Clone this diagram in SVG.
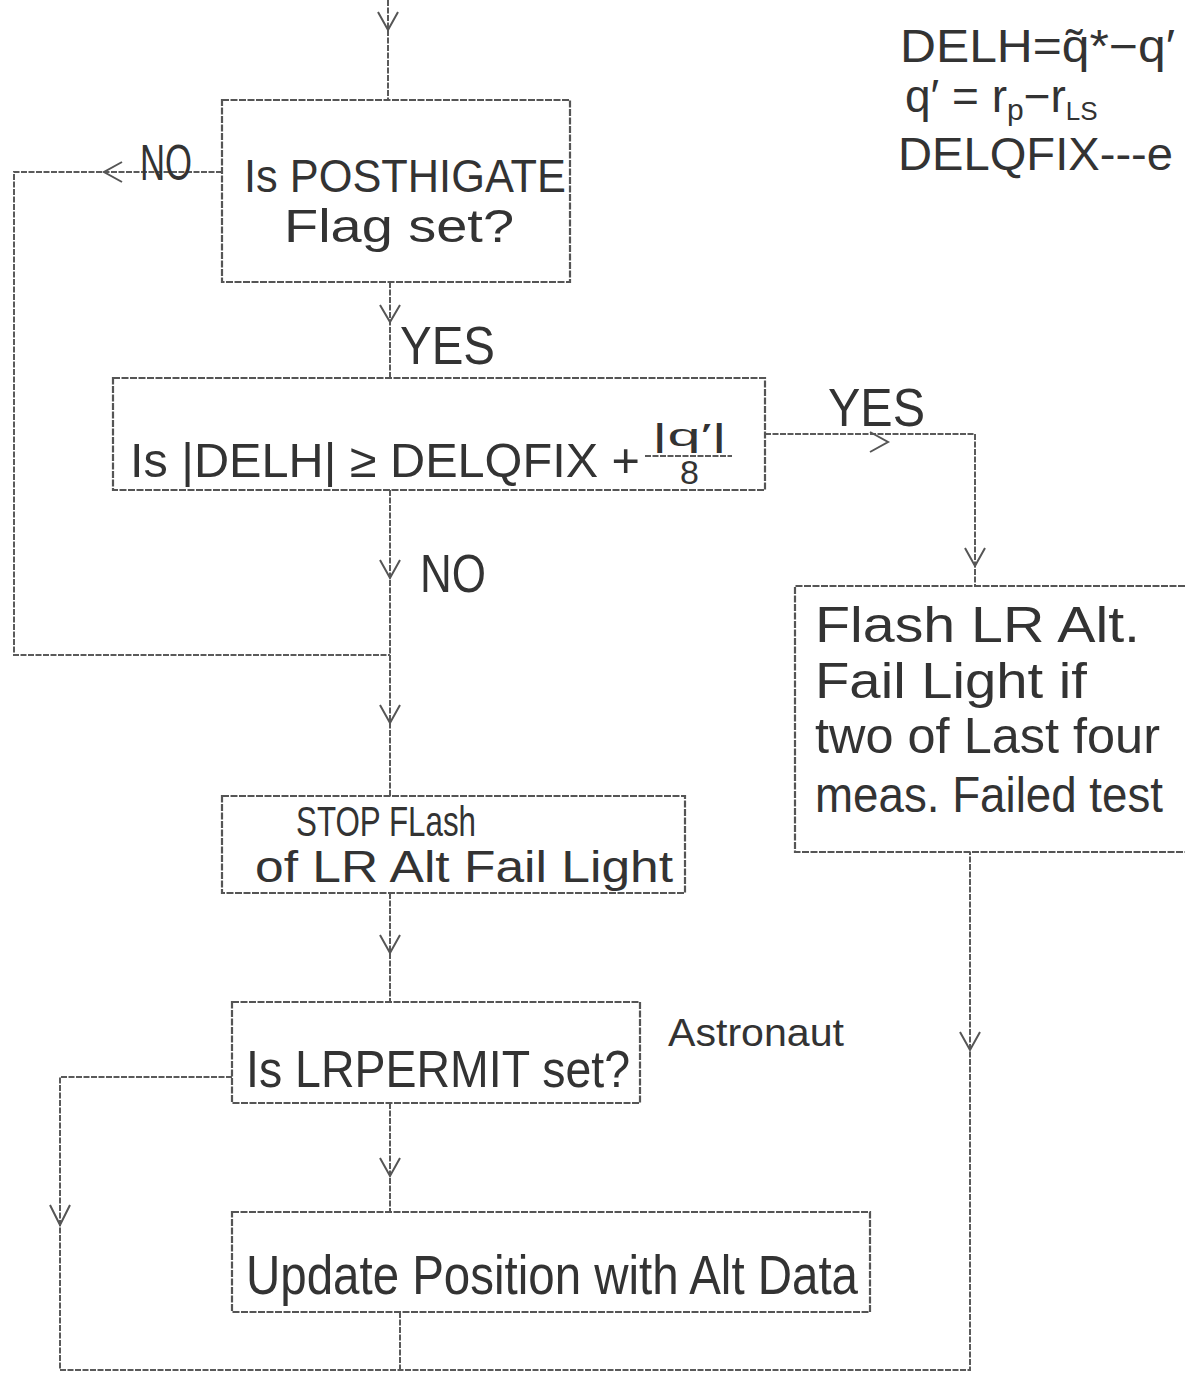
<svg xmlns="http://www.w3.org/2000/svg" width="1185" height="1379" viewBox="0 0 1185 1379">
<style>
.bg{fill:#ffffff}
.box{fill:none;stroke:#555;stroke-width:2.2;stroke-dasharray:7 1.5}
.ln{fill:none;stroke:#5a5a5a;stroke-width:2;stroke-dasharray:6 1.5}
.chev{fill:none;stroke:#555;stroke-width:2}
.t{font-family:"Liberation Sans",Arial,sans-serif;fill:#333;font-weight:normal}
</style>
<rect class="bg" x="0" y="0" width="1185" height="1379"/>
<g id="connectors">
<path class="ln" d="M388,0 V100"/>
<path class="ln" d="M222,172 H14 V655 H390"/>
<path class="ln" d="M390,282 V378"/>
<path class="ln" d="M765,434 H975 V586"/>
<path class="ln" d="M390,490 V796"/>
<path class="ln" d="M390,893 V1002"/>
<path class="ln" d="M232,1077 H60 V1370 H970 V852"/>
<path class="ln" d="M390,1103 V1212"/>
<path class="ln" d="M400,1312 V1370"/>
<path class="chev" d="M378,12 L388,30 L398,12"/>
<path class="chev" d="M122,162 L104,172 L122,182"/>
<path class="chev" d="M380,305 L390,322 L400,305"/>
<path class="chev" d="M870,432 L888,442 L870,452"/>
<path class="chev" d="M965,548 L975,566 L985,548"/>
<path class="chev" d="M380,560 L390,578 L400,560"/>
<path class="chev" d="M380,705 L390,723 L400,705"/>
<path class="chev" d="M380,935 L390,953 L400,935"/>
<path class="chev" d="M380,1158 L390,1176 L400,1158"/>
<path class="chev" d="M50,1205 L60,1225 L70,1205"/>
<path class="chev" d="M960,1032 L970,1050 L980,1032"/>
</g>
<g id="labels">
<text class="t" x="140" y="180" font-size="50" textLength="52" lengthAdjust="spacingAndGlyphs">NO</text>
<text class="t" x="400" y="364" font-size="54" textLength="95" lengthAdjust="spacingAndGlyphs">YES</text>
<text class="t" x="828" y="426" font-size="54" textLength="97" lengthAdjust="spacingAndGlyphs">YES</text>
<text class="t" x="420" y="592" font-size="54" textLength="66" lengthAdjust="spacingAndGlyphs">NO</text>
<text class="t" x="668" y="1046" font-size="38" textLength="176" lengthAdjust="spacingAndGlyphs">Astronaut</text>
</g>
<g id="formulas">
<text class="t" x="900" y="62" font-size="46" textLength="275" lengthAdjust="spacingAndGlyphs">DELH=q̃*−q′</text>
<text class="t" x="905" y="112" font-size="46">q′ = r<tspan font-size="30" dy="8">p</tspan><tspan dy="-8">−r</tspan><tspan font-size="26" dy="8">LS</tspan></text>
<text class="t" x="898" y="170" font-size="46" textLength="275" lengthAdjust="spacingAndGlyphs">DELQFIX---e</text>
</g>
<g id="node-posthigate">
<rect class="box" x="222" y="100" width="348" height="182"/>
<text class="t" x="244" y="192" font-size="46" textLength="322" lengthAdjust="spacingAndGlyphs">Is POSTHIGATE</text>
<text class="t" x="284" y="242" font-size="46" textLength="230" lengthAdjust="spacingAndGlyphs">Flag set?</text>
</g>
<g id="node-delh">
<rect class="box" x="113" y="378" width="652" height="112"/>
<text class="t" x="130" y="477" font-size="48" textLength="510" lengthAdjust="spacingAndGlyphs">Is |DELH| ≥ DELQFIX +</text>
<text class="t" x="652" y="446" font-size="32" textLength="75" lengthAdjust="spacingAndGlyphs">|q′|</text>
<path class="ln" d="M645,456 H732"/>
<text class="t" x="680" y="484" font-size="34">8</text>
</g>
<g id="node-flash">
<path class="box" d="M1185,586 H795 V852 H1185"/>
<text class="t" x="815" y="642" font-size="50" textLength="325" lengthAdjust="spacingAndGlyphs">Flash LR Alt.</text>
<text class="t" x="815" y="698" font-size="50" textLength="272" lengthAdjust="spacingAndGlyphs">Fail Light if</text>
<text class="t" x="815" y="753" font-size="50" textLength="345" lengthAdjust="spacingAndGlyphs">two of Last four</text>
<text class="t" x="815" y="812" font-size="50" textLength="348" lengthAdjust="spacingAndGlyphs">meas. Failed test</text>
</g>
<g id="node-stop">
<rect class="box" x="222" y="796" width="463" height="97"/>
<text class="t" x="296" y="836" font-size="42" textLength="180" lengthAdjust="spacingAndGlyphs">STOP FLash</text>
<text class="t" x="255" y="882" font-size="44" textLength="418" lengthAdjust="spacingAndGlyphs">of LR Alt Fail Light</text>
</g>
<g id="node-lrpermit">
<rect class="box" x="232" y="1002" width="408" height="101"/>
<text class="t" x="246" y="1087" font-size="52" textLength="384" lengthAdjust="spacingAndGlyphs">Is LRPERMIT set?</text>
</g>
<g id="node-update">
<rect class="box" x="232" y="1212" width="638" height="100"/>
<text class="t" x="246" y="1294" font-size="56" textLength="612" lengthAdjust="spacingAndGlyphs">Update Position with Alt Data</text>
</g>
</svg>
